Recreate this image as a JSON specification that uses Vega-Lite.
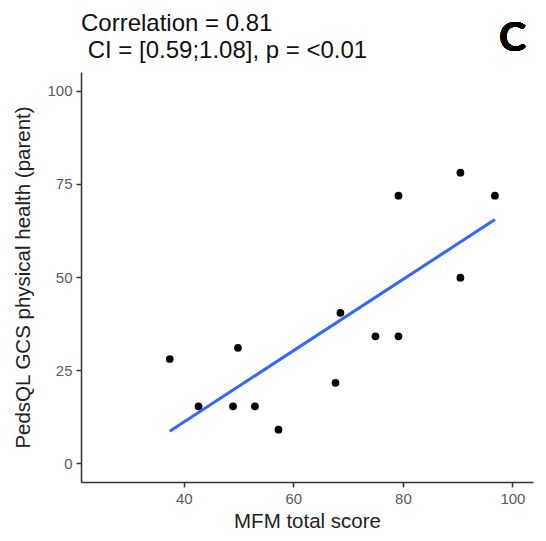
{
  "$schema": "https://vega.github.io/schema/vega-lite/v6.json",
  "autosize": "none",
  "width": 452,
  "height": 410,
  "padding": {"left": 81, "top": 72, "right": 13, "bottom": 59},
  "background": "white",
  "title": {
    "text": ["Correlation = 0.81", "\u200b\u00a0CI = [0.59;1.08], p = <0.01"],
    "anchor": "start",
    "frame": "group",
    "font": "Liberation Sans",
    "fontSize": 24,
    "fontWeight": "normal",
    "color": "#111111",
    "lineHeight": 27,
    "offset": 12,
    "dy": 57
  },
  "config": {
    "view": {"stroke": null},
    "axis": {
      "grid": false,
      "domainColor": "#333333",
      "domainWidth": 1.5,
      "tickColor": "#333333",
      "tickWidth": 1.5,
      "tickSize": 5,
      "labelFont": "Liberation Sans",
      "labelFontSize": 15,
      "labelColor": "#5a5a5a",
      "labelPadding": 4,
      "titleFont": "Liberation Sans",
      "titleFontSize": 20.5,
      "titleFontWeight": "normal",
      "titleColor": "#222222"
    }
  },
  "data": {
    "values": [
      {"mfm": 37.45, "pedsql": 28.0},
      {"mfm": 42.7, "pedsql": 15.3},
      {"mfm": 49.9, "pedsql": 31.0},
      {"mfm": 49.0, "pedsql": 15.3},
      {"mfm": 53.0, "pedsql": 15.3},
      {"mfm": 57.3, "pedsql": 9.05},
      {"mfm": 67.7, "pedsql": 21.6},
      {"mfm": 68.6, "pedsql": 40.4},
      {"mfm": 75.0, "pedsql": 34.1},
      {"mfm": 79.2, "pedsql": 34.1},
      {"mfm": 79.2, "pedsql": 71.8},
      {"mfm": 90.5, "pedsql": 78.0},
      {"mfm": 90.5, "pedsql": 49.8},
      {"mfm": 96.8, "pedsql": 71.8}
    ]
  },
  "encoding": {
    "x": {
      "field": "mfm",
      "type": "quantitative",
      "title": "MFM total score",
      "scale": {"domain": [21.25, 103.75], "nice": false, "zero": false},
      "axis": {"values": [40, 60, 80, 100], "titlePadding": 5}
    },
    "y": {
      "field": "pedsql",
      "type": "quantitative",
      "title": "PedsQL GCS physical health (parent)",
      "scale": {"domain": [-5, 105], "nice": false, "zero": false},
      "axis": {"values": [0, 25, 50, 75, 100], "titlePadding": 13}
    }
  },
  "layer": [
    {
      "mark": {"type": "point", "filled": true, "color": "black", "size": 60, "opacity": 1}
    },
    {
      "transform": [{"regression": "pedsql", "on": "mfm"}],
      "mark": {"type": "line", "color": "#3366FF", "strokeWidth": 3}
    },
    {
      "mark": {"type": "text", "text": "C", "font": "Lato", "fontWeight": "bold", "fontSize": 41, "color": "black", "align": "center", "baseline": "middle"},
      "encoding": {
        "x": {"datum": 100},
        "y": {"datum": 113.8}
      }
    }
  ]
}
